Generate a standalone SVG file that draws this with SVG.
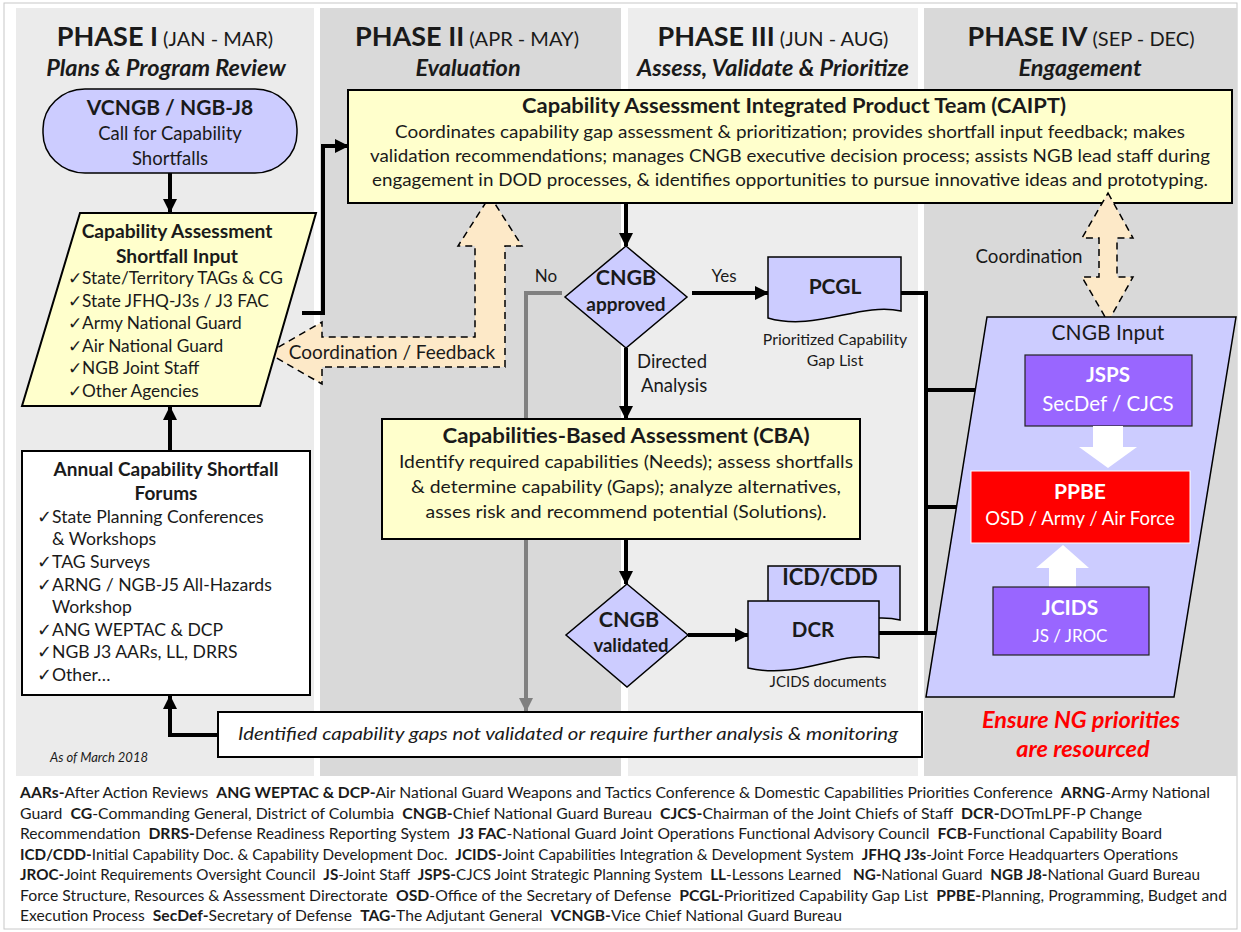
<svg xmlns="http://www.w3.org/2000/svg" width="1241" height="932" viewBox="0 0 1241 932">
<style>
text{font-family:Lato,"Liberation Sans",sans-serif;fill:#1a1a1a}
.b{font-weight:bold}
.i{font-style:italic}
.c{text-anchor:middle}
.w{fill:#ffffff}
.blk{fill:none;stroke:#000;stroke-width:4}
.gry{fill:none;stroke:#808080;stroke-width:4}
.yel{fill:#ffffcc;stroke:#000;stroke-width:2}
.lav{fill:#ccccff;stroke:#000;stroke-width:1.5}
.pur{fill:#9966ff;stroke:#222;stroke-width:1.2}
.pch{fill:#fde9c8;stroke:#000;stroke-width:1.5;stroke-dasharray:7 5}
.hd{font-size:27px;font-weight:bold}
.hd2{font-size:20px;font-weight:normal}
.sub{font-size:23.5px;font-weight:bold;font-style:italic}
.it{font-size:17.3px}
.it2{font-size:17.6px}
.lg{font-size:14.5px;white-space:pre}
</style>
<defs>
<marker id="ah" markerUnits="userSpaceOnUse" markerWidth="14" markerHeight="14" refX="13" refY="7" orient="auto">
<path d="M0,0 L14,7 L0,14 z" fill="#000"/>
</marker>
<marker id="ahg" markerUnits="userSpaceOnUse" markerWidth="14" markerHeight="14" refX="13" refY="7" orient="auto">
<path d="M0,0 L14,7 L0,14 z" fill="#808080"/>
</marker>
</defs>

<rect x="4" y="3" width="1233" height="926" fill="#ffffff" stroke="#c8c8c8" stroke-width="1"/>

<g id="phases">
<rect x="16" y="8" width="298" height="768" fill="#ebebeb"/>
<rect x="320" y="8" width="301" height="768" fill="#d9d9d9"/>
<rect x="628" y="8" width="290" height="768" fill="#ededed"/>
<rect x="924" y="8" width="313" height="768" fill="#d9d9d9"/>
<text x="165" y="46" class="c"><tspan class="hd">PHASE I</tspan><tspan class="hd2"> (JAN - MAR)</tspan></text>
<text x="166" y="76" class="c sub">Plans &amp; Program Review</text>
<text x="467" y="46" class="c"><tspan class="hd">PHASE II</tspan><tspan class="hd2"> (APR - MAY)</tspan></text>
<text x="468" y="76" class="c sub">Evaluation</text>
<text x="773" y="46" class="c"><tspan class="hd">PHASE III</tspan><tspan class="hd2"> (JUN - AUG)</tspan></text>
<text x="773" y="76" class="c sub">Assess, Validate &amp; Prioritize</text>
<text x="1081" y="46" class="c"><tspan class="hd">PHASE IV</tspan><tspan class="hd2"> (SEP - DEC)</tspan></text>
<text x="1080" y="76" class="c sub">Engagement</text>
</g>

<g id="coord-feedback">
<path class="pch" d="M268,353 L322,322 L322,337 L475,337 L475,246 L458,246 L490,196 L522,246 L505,246 L505,367 L322,367 L322,384 Z"/>
<text x="392" y="359" class="c" font-size="19">Coordination / Feedback</text>
</g>

<g id="caipt">
<rect x="348" y="90" width="884" height="113" class="yel"/>
<text x="794" y="113" class="c b" font-size="21" textLength="544" lengthAdjust="spacingAndGlyphs">Capability Assessment Integrated Product Team (CAIPT)</text>
<text x="790" y="138" class="c" font-size="18" textLength="790" lengthAdjust="spacingAndGlyphs">Coordinates capability gap assessment &amp; prioritization; provides shortfall input feedback; makes</text>
<text x="790" y="162" class="c" font-size="18" textLength="840" lengthAdjust="spacingAndGlyphs">validation recommendations; manages CNGB executive decision process; assists NGB lead staff during</text>
<text x="790" y="186" class="c" font-size="18" textLength="836" lengthAdjust="spacingAndGlyphs">engagement in DOD processes, &amp; identifies opportunities to pursue innovative ideas and prototyping.</text>
</g>

<g id="coordination">
<path class="pch" d="M1108,193 L1133,238 L1117,238 L1117,277 L1133,277 L1108,322 L1082,277 L1099,277 L1099,238 L1082,238 Z"/>
<text x="1029" y="263" class="c" font-size="18.7">Coordination</text>
</g>

<g id="connectors">
<line class="blk" x1="170" y1="173" x2="170" y2="212" stroke-width="3" marker-end="url(#ah)"/>
<line class="blk" x1="170" y1="451" x2="170" y2="407" stroke-width="3" marker-end="url(#ah)"/>
<polyline class="blk" points="302,313 323,313 323,146 348,146" marker-end="url(#ah)"/>
<line class="blk" x1="626" y1="203" x2="626" y2="246" marker-end="url(#ah)"/>
<line class="blk" x1="692" y1="293" x2="768" y2="293" marker-end="url(#ah)"/>
<line class="blk" x1="626" y1="348" x2="626" y2="419" marker-end="url(#ah)"/>
<line class="blk" x1="626" y1="539" x2="626" y2="584" marker-end="url(#ah)"/>
<line class="blk" x1="688" y1="635" x2="748" y2="635" marker-end="url(#ah)"/>
<polyline class="blk" points="901,293 926,293 926,633" stroke-width="5"/>
<line class="blk" x1="926" y1="390" x2="1025" y2="390" marker-end="url(#ah)"/>
<line class="blk" x1="926" y1="507" x2="971" y2="507" marker-end="url(#ah)"/>
<line class="blk" x1="879" y1="633" x2="993" y2="633" marker-end="url(#ah)"/>
<polyline class="gry" points="562,293 526,293 526,711" marker-end="url(#ahg)"/>
<polyline class="blk" points="218,735 170,735 170,696" marker-end="url(#ah)"/>
<text x="546" y="282" class="c" font-size="17">No</text>
<text x="724" y="282" class="c" font-size="17">Yes</text>
<text x="637" y="368" font-size="18.5">Directed</text>
<text x="641" y="392" font-size="18.5">Analysis</text>
</g>

<g id="vcngb">
<rect x="43" y="89" width="254" height="84" rx="42" ry="40" class="lav"/>
<text x="170" y="115" class="c b" font-size="21">VCNGB / NGB-J8</text>
<text x="170" y="140" class="c" font-size="18.5">Call for Capability</text>
<text x="170" y="165" class="c" font-size="18.5">Shortfalls</text>
</g>

<g id="shortfall-input">
<polygon points="80,213 316,213 260,406 22,406" class="yel"/>
<text x="177" y="238" class="c b" font-size="19.2">Capability Assessment</text>
<text x="177" y="263" class="c b" font-size="19.2">Shortfall Input</text>
<text x="68" y="284" class="it">✓State/Territory TAGs &amp; CG</text>
<text x="68" y="306.5" class="it">✓State JFHQ-J3s / J3 FAC</text>
<text x="68" y="329" class="it">✓Army National Guard</text>
<text x="68" y="351.5" class="it">✓Air National Guard</text>
<text x="68" y="374" class="it">✓NGB Joint Staff</text>
<text x="68" y="396.5" class="it">✓Other Agencies</text>
</g>

<g id="forums">
<rect x="22" y="451" width="288" height="244" fill="#ffffff" stroke="#000" stroke-width="2"/>
<text x="166" y="476" class="c b" font-size="19">Annual Capability Shortfall</text>
<text x="166" y="500" class="c b" font-size="19">Forums</text>
<text x="37" y="523" class="it2">✓State Planning Conferences</text>
<text x="52" y="545" class="it2">&amp; Workshops</text>
<text x="37" y="568" class="it2">✓TAG Surveys</text>
<text x="37" y="591" class="it2">✓ARNG / NGB-J5 All-Hazards</text>
<text x="52" y="613" class="it2">Workshop</text>
<text x="37" y="636" class="it2">✓ANG WEPTAC &amp; DCP</text>
<text x="37" y="658" class="it2">✓NGB J3 AARs, LL, DRRS</text>
<text x="37" y="681" class="it2">✓Other…</text>
<text x="50" y="762" class="i" font-size="13">As of March 2018</text>
</g>

<g id="approved">
<polygon points="626,246 687,297 626,348 565,297" class="lav"/>
<text x="626" y="285" class="c b" font-size="21.5">CNGB</text>
<text x="626" y="311" class="c b" font-size="19">approved</text>
</g>

<g id="pcgl">
<path d="M768,257 H901 V311 C860,302 815,332 768,318 Z" class="lav"/>
<text x="835" y="294" class="c b" font-size="21">PCGL</text>
<text x="835" y="345" class="c" font-size="15.8">Prioritized Capability</text>
<text x="835" y="366" class="c" font-size="15.8">Gap List</text>
</g>

<g id="cba">
<rect x="382" y="419" width="478" height="120" class="yel"/>
<text x="626" y="443" class="c b" font-size="20.5" textLength="367" lengthAdjust="spacingAndGlyphs">Capabilities-Based Assessment (CBA)</text>
<text x="626" y="468" class="c" font-size="18" textLength="454" lengthAdjust="spacingAndGlyphs">Identify required capabilities (Needs); assess shortfalls</text>
<text x="626" y="493" class="c" font-size="18" textLength="430" lengthAdjust="spacingAndGlyphs">&amp; determine capability (Gaps); analyze alternatives,</text>
<text x="626" y="518" class="c" font-size="18" textLength="401" lengthAdjust="spacingAndGlyphs">asses risk and recommend potential (Solutions).</text>
</g>

<g id="validated">
<polygon points="627,584 688,635 627,687 566,635" class="lav"/>
<text x="629" y="627" class="c b" font-size="21.5">CNGB</text>
<text x="631" y="652" class="c b" font-size="18.5">validated</text>
</g>

<g id="icdcdd">
<path d="M768,566 H900 V620 C870,612 830,630 768,626 Z" class="lav"/>
<text x="830" y="585" class="c b" font-size="22">ICD/CDD</text>
</g>

<g id="dcr">
<path d="M748,601 H879 V658 C840,650 800,680 748,668 Z" class="lav"/>
<text x="813" y="637" class="c b" font-size="20.5">DCR</text>
<text x="828" y="687" class="c" font-size="15">JCIDS documents</text>
</g>

<g id="cngb-input">
<polygon points="987,317 1236,317 1174,697 926,697" class="lav"/>
<text x="1108" y="340" class="c" font-size="21">CNGB Input</text>
</g>

<g id="jsps">
<rect x="1025" y="355" width="167" height="71" class="pur"/>
<text x="1108" y="382" class="c b w" font-size="20.5">JSPS</text>
<text x="1108" y="411" class="c w" font-size="20.5">SecDef / CJCS</text>
</g>

<g id="white-arrows">
<path d="M1093,426 H1123 V447 H1137 L1108,468 L1079,447 H1093 Z" fill="#ffffff"/>
<path d="M1049,587 V568 H1036 L1063,545 L1089,568 H1076 V587 Z" fill="#ffffff"/>
</g>

<g id="ppbe">
<rect x="971" y="471" width="219" height="72" fill="#ff0000" stroke="#ffffff" stroke-width="1"/>
<text x="1080" y="499" class="c b w" font-size="21">PPBE</text>
<text x="1080" y="525" class="c w" font-size="18.5">OSD / Army / Air Force</text>
</g>

<g id="jcids">
<rect x="993" y="587" width="156" height="68" class="pur"/>
<text x="1070" y="615" class="c b w" font-size="21">JCIDS</text>
<text x="1070" y="642" class="c w" font-size="17">JS / JROC</text>
</g>

<g id="ensure">
<text x="1081" y="728" class="c b i" font-size="23.5" style="fill:#ff0000">Ensure NG priorities</text>
<text x="1083" y="757" class="c b i" font-size="23.5" style="fill:#ff0000">are resourced</text>
</g>

<g id="gaps-bar">
<rect x="218" y="712" width="704" height="45" fill="#ffffff" stroke="#000" stroke-width="2"/>
<text x="568" y="740" class="c i" font-size="17.5" textLength="660" lengthAdjust="spacingAndGlyphs">Identified capability gaps not validated or require further analysis &amp; monitoring</text>
</g>

<g id="legend">
<text x="20" y="798" class="lg" textLength="1190" lengthAdjust="spacingAndGlyphs"><tspan class="b">AARs-</tspan>After Action Reviews  <tspan class="b">ANG WEPTAC &amp; DCP-</tspan>Air National Guard Weapons and Tactics Conference &amp; Domestic Capabilities Priorities Conference  <tspan class="b">ARNG</tspan>-Army National</text>
<text x="20" y="818.5" class="lg" textLength="1122" lengthAdjust="spacingAndGlyphs">Guard  <tspan class="b">CG</tspan>-Commanding General, District of Columbia  <tspan class="b">CNGB-</tspan>Chief National Guard Bureau  <tspan class="b">CJCS-</tspan>Chairman of the Joint Chiefs of Staff  <tspan class="b">DCR-</tspan>DOTmLPF-P Change</text>
<text x="20" y="839" class="lg" textLength="1142" lengthAdjust="spacingAndGlyphs">Recommendation  <tspan class="b">DRRS-</tspan>Defense Readiness Reporting System  <tspan class="b">J3 FAC</tspan>-National Guard Joint Operations Functional Advisory Council  <tspan class="b">FCB-</tspan>Functional Capability Board</text>
<text x="20" y="859.5" class="lg" textLength="1158" lengthAdjust="spacingAndGlyphs"><tspan class="b">ICD/CDD-</tspan>Initial Capability Doc. &amp; Capability Development Doc.  <tspan class="b">JCIDS-</tspan>Joint Capabilities Integration &amp; Development System  <tspan class="b">JFHQ J3s</tspan>-Joint Force Headquarters Operations</text>
<text x="20" y="880" class="lg" textLength="1180" lengthAdjust="spacingAndGlyphs"><tspan class="b">JROC-</tspan>Joint Requirements Oversight Council  <tspan class="b">JS</tspan>-Joint Staff  <tspan class="b">JSPS-</tspan>CJCS Joint Strategic Planning System  <tspan class="b">LL</tspan>-Lessons Learned   <tspan class="b">NG-</tspan>National Guard  <tspan class="b">NGB J8-</tspan>National Guard Bureau</text>
<text x="20" y="900.5" class="lg" textLength="1207" lengthAdjust="spacingAndGlyphs">Force Structure, Resources &amp; Assessment Directorate  <tspan class="b">OSD</tspan>-Office of the Secretary of Defense  <tspan class="b">PCGL-</tspan>Prioritized Capability Gap List  <tspan class="b">PPBE-</tspan>Planning, Programming, Budget and</text>
<text x="20" y="921" class="lg" textLength="822" lengthAdjust="spacingAndGlyphs">Execution Process  <tspan class="b">SecDef-</tspan>Secretary of Defense  <tspan class="b">TAG-</tspan>The Adjutant General  <tspan class="b">VCNGB-</tspan>Vice Chief National Guard Bureau</text>
</g>
</svg>
